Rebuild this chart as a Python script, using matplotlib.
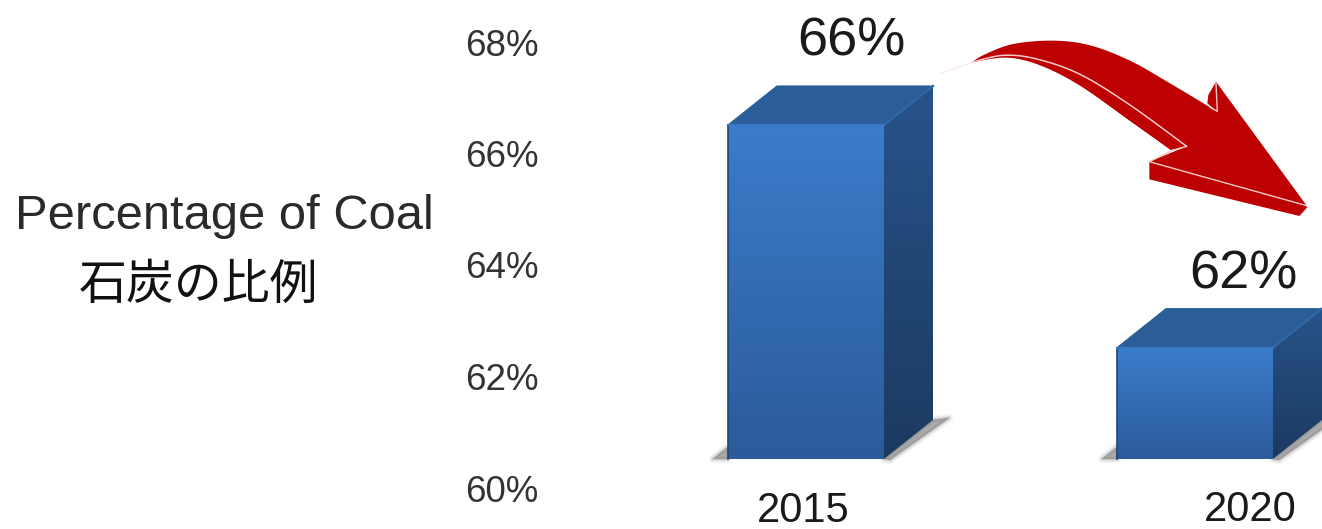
import numpy as np
import matplotlib
matplotlib.use("Agg")
import matplotlib.pyplot as plt
from matplotlib.patches import Polygon
from matplotlib.colors import LinearSegmentedColormap
from matplotlib.transforms import Affine2D

# Chart data
years = ["2015", "2020"]
coal_share = [66, 62]
share_labels = ["66%", "62%"]
tick_values = [60, 62, 64, 66, 68]
ylabel_en = "Percentage of Coal"
ylabel_ja = "石炭の比例"

W, H = 1322, 529
TEXT_FONT = ["Liberation Sans", "Noto Sans CJK JP", "DejaVu Sans"]
plt.rcParams["font.family"] = TEXT_FONT

fig = plt.figure(figsize=(W / 100, H / 100), dpi=100, facecolor="white")
ax = fig.add_axes([0, 0, 1, 1])
ax.set_axis_off()

# Scales: one category step is 389 px, one percentage point is 55.67 px
CAT_PX, PCT_PX = 389.0, 55.67
X0_PX, BASE_PX = 806.0, 459.0
ax.set_xlim(-X0_PX / CAT_PX, (W - X0_PX) / CAT_PX)
ax.set_ylim(60 - (H - BASE_PX) / PCT_PX, 60 + BASE_PX / PCT_PX)

bar_w = 156 / CAT_PX
dx, dy = 49 / CAT_PX, 39 / PCT_PX
base = 60


def gradient(poly, top, bottom, zorder):
    """Fill a polygon with a vertical colour gradient."""
    pts = np.array(poly)
    cmap = LinearSegmentedColormap.from_list("g", [top, bottom])
    extent = (pts[:, 0].min(), pts[:, 0].max(), pts[:, 1].min(), pts[:, 1].max())
    im = ax.imshow(np.linspace(0, 1, 200)[:, None], cmap=cmap, extent=extent,
                   aspect="auto", zorder=zorder, origin="upper")
    clip = Polygon(poly, closed=True, transform=ax.transData, fc="none", ec="none")
    ax.add_patch(clip)
    im.set_clip_path(clip)


def soft_shadow(poly):
    """Grey ground shadow with a feathered edge."""
    for lw, alpha in [(6, 0.07), (4, 0.10), (2.5, 0.14), (1, 0.2), (0, 0.25)]:
        ax.add_patch(Polygon(poly, closed=True, fc="#777777", ec="#777777", lw=lw,
                             alpha=alpha, zorder=1, joinstyle="round"))


for i, v in enumerate(coal_share):
    l, r = i - bar_w / 2, i + bar_w / 2
    # ground shadows either side of the block
    soft_shadow([(l - 15 / CAT_PX, base), (l, base + 12 / PCT_PX), (l, base)])
    soft_shadow([(r, base), (r + dx, base + dy), (r + dx + 16 / CAT_PX, base + 41 / PCT_PX),
                 (r + 6 / CAT_PX, base - 1 / PCT_PX)])
    # side, top and front faces
    gradient([(r, base), (r + dx, base + dy), (r + dx, v + dy), (r, v)],
             "#28538a", "#1b3a60", 2)
    ax.add_patch(Polygon([(l, v), (l + dx, v + dy), (r + dx, v + dy), (r, v)], closed=True,
                         fc="#2b5e98", ec="#2b5e98", lw=0.8, joinstyle="round", zorder=3))
    ax.plot([r, r + dx], [v, v + dy], color="#3067a8", lw=1.6, zorder=3.5)
    gradient([(l, base), (l, v), (r, v), (r, base)], "#3b7ccc", "#2b5b99", 4)
    ax.plot([l, l], [base, v], color="#1f4673", lw=1.2, zorder=5)
    ax.plot([l, r], [v, v], color="#3a78c4", lw=1.6, zorder=5)

# Value labels above the blocks, category labels underneath
label_offsets = [(45, 83), (48, 73)]
for i, (v, txt) in enumerate(zip(coal_share, share_labels)):
    ox, oy = label_offsets[i]
    ax.annotate(txt, (i, v), xytext=(ox * 0.72, oy * 0.72), textcoords="offset points",
                ha="center", va="center", fontsize=39, color="#1a1a1a", zorder=8)
year_offsets = [(-3, -52), (55, -51)]
for i, y in enumerate(years):
    ox, oy = year_offsets[i]
    ax.annotate(y, (i, base), xytext=(ox * 0.72, oy * 0.72), textcoords="offset points",
                ha="center", va="center", fontsize=30, color="#1a1a1a", zorder=8)

# Percentage scale: a narrow axes whose ticks carry the labels
top_px, bot_px = 42.0, 488.0
scale_ax = fig.add_axes([546 / W, 1 - bot_px / H, 1 / W, (bot_px - top_px) / H])
scale_ax.patch.set_alpha(0)
for s in scale_ax.spines.values():
    s.set_visible(False)
scale_ax.set_xticks([])
scale_ax.set_ylim(tick_values[0], tick_values[-1])
scale_ax.set_yticks(tick_values, [f"{t}%" for t in tick_values])
scale_ax.tick_params(axis="y", length=0, pad=5.5, labelsize=26.5, labelcolor="#333333")

# Axis caption in two languages
fig.text(224 / W, 1 - 217 / H, ylabel_en, ha="center", va="center", fontsize=35.2, color="#2a2a2a")
fig.text(198 / W, 1 - 285 / H, ylabel_ja, ha="center", va="center", fontsize=34.5, color="#111111",
         family=["Noto Sans CJK JP", "DejaVu Sans"])

# Curved red arrow, outlined in pixel space from the left bar towards the right bar
to_fig = Affine2D().scale(1, -1).translate(0, H) + fig.dpi_scale_trans.inverted() + fig.dpi_scale_trans


def zp(x, y):
    return (930 + x / 3, 20 + y / 3)


def smooth(ctrl, n=24):
    """Catmull-Rom run through a short list of outline points."""
    p = np.array([ctrl[0]] + ctrl + [ctrl[-1]], dtype=float)
    out = []
    for k in range(1, len(p) - 2):
        for t in np.linspace(0, 1, n, endpoint=False):
            out.append(0.5 * (2 * p[k] + (p[k + 1] - p[k - 1]) * t
                              + (2 * p[k - 1] - 5 * p[k] + 4 * p[k + 1] - p[k + 2]) * t ** 2
                              + (3 * p[k] - p[k - 1] - 3 * p[k + 1] + p[k + 2]) * t ** 3))
    out.append(p[-2])
    return [tuple(q) for q in out]


upper = smooth([zp(125, 127), zp(165, 103), zp(250, 72), zp(370, 62), zp(480, 76),
                zp(600, 122), zp(720, 190), zp(840, 262)])
inner = smooth([zp(770, 379), zp(600, 255), zp(450, 163), zp(320, 117), zp(220, 106), zp(125, 127)])
under = smooth([zp(722, 390), zp(600, 303), zp(450, 197), zp(330, 136), zp(230, 113), zp(125, 127)])
RED = "#bd0000"
HL = "#f1c9c9"


def px_patch(pts, **kw):
    poly = Polygon(pts, closed=True, transform=to_fig, **kw)
    fig.add_artist(poly)
    return poly


def px_line(pts, **kw):
    arr = np.array(pts)
    line = plt.Line2D(arr[:, 0], arr[:, 1], transform=to_fig, **kw)
    fig.add_artist(line)


# extruded underside of shaft and head
px_patch(under + inner[::-1], fc=RED, ec="none")
px_patch([zp(658, 425), zp(658, 478), zp(1108, 588), zp(1132, 562), zp(1125, 555)], fc=RED, ec="none")
# ear behind the upper barb
px_patch([zp(858, 185), zp(835, 225), zp(832, 250), zp(862, 275)], fc=RED, ec="none")
# main face
face = upper + [zp(862, 274), zp(858, 185), zp(1130, 557), zp(658, 425), zp(770, 379)] + inner
px_patch(face, fc=RED, ec="none")
# highlights along the edges
px_line(inner, color=HL, lw=1.1)
px_line([zp(770, 379), zp(725, 392), zp(658, 425), zp(1130, 557)], color=HL, lw=1.0)
px_line([zp(840, 262), zp(862, 274), zp(858, 190)], color=HL, lw=1.0)
px_line([zp(30, 162), zp(125, 127)], color="#fbecec", lw=1.0)

fig.savefig("out.png", dpi=100, facecolor="white")
